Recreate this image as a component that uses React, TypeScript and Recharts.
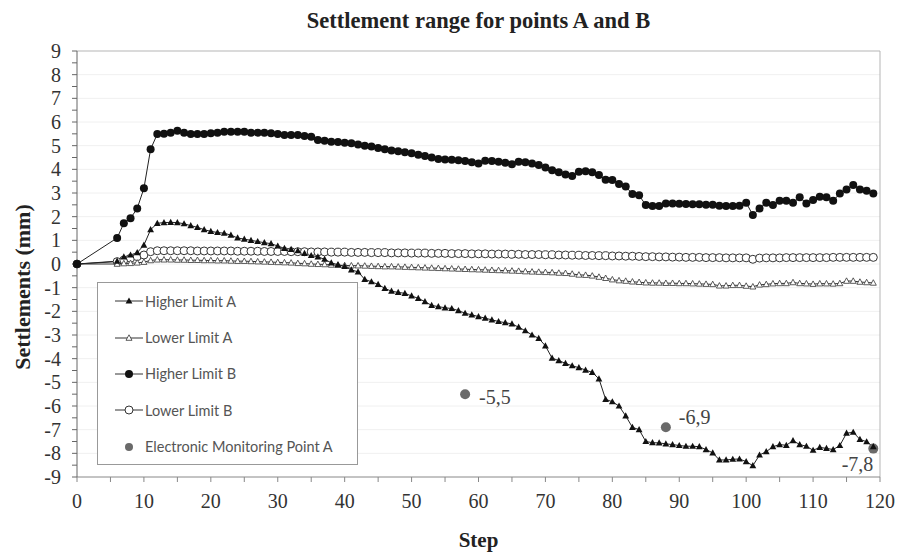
import {
  CartesianGrid,
  ComposedChart,
  Legend,
  Line,
  ReferenceLine,
  Scatter,
  XAxis,
  YAxis,
} from 'recharts'

// x categories: construction steps 0..119
const steps = Array.from({ length: 120 }, (_, i) => i)

// settlements (mm), null where no reading was taken
const higherLimitA = [
  0, null, null, null, null, null, 0.12, 0.3, 0.38, 0.48,
  0.8, 1.45, 1.72, 1.75, 1.76, 1.75, 1.7, 1.62, 1.55, 1.45,
  1.38, 1.33, 1.3, 1.22, 1.1, 1.05, 1.0, 0.95, 0.9, 0.86,
  0.76, 0.66, 0.62, 0.56, 0.45, 0.36, 0.3, 0.2, 0.05, -0.03,
  -0.1, -0.25, -0.33, -0.65, -0.75, -0.86, -1.03, -1.15, -1.2, -1.24,
  -1.35, -1.45, -1.59, -1.75, -1.8, -1.85, -1.88, -1.97, -2.08, -2.15,
  -2.22, -2.29, -2.36, -2.43, -2.48, -2.53, -2.67, -2.82, -3.0, -3.14,
  -3.46, -3.98, -4.08, -4.2, -4.3, -4.38, -4.48, -4.58, -4.85, -5.72,
  -5.82, -6.0, -6.42, -6.9, -7.0, -7.5, -7.55, -7.56, -7.6, -7.63,
  -7.67, -7.7, -7.7, -7.72, -7.84, -7.98, -8.28, -8.28, -8.25, -8.24,
  -8.35, -8.52, -8.07, -7.93, -7.72, -7.63, -7.66, -7.46, -7.63, -7.7,
  -7.87, -7.75, -7.79, -7.84, -7.67, -7.15, -7.11, -7.41, -7.51, -7.72,
]

const lowerLimitA = [
  0, null, null, null, null, null, 0.0, 0.02, 0.03, 0.05,
  0.08, 0.15, 0.18, 0.18, 0.18, 0.17, 0.17, 0.16, 0.16, 0.15,
  0.15, 0.14, 0.14, 0.13, 0.12, 0.12, 0.11, 0.1, 0.09, 0.08,
  0.07, 0.06, 0.05, 0.03, 0.02, 0.0, -0.01, -0.02, -0.04, -0.05,
  -0.06, -0.07, -0.07, -0.08, -0.09, -0.1, -0.11, -0.11, -0.12, -0.13,
  -0.14, -0.15, -0.16, -0.17, -0.18, -0.19, -0.2, -0.21, -0.22, -0.23,
  -0.24, -0.25, -0.26, -0.27, -0.28, -0.29, -0.3, -0.32, -0.33, -0.34,
  -0.35, -0.36, -0.38, -0.39, -0.42, -0.46, -0.47, -0.5, -0.55, -0.6,
  -0.66, -0.7, -0.72, -0.75, -0.77, -0.79, -0.8, -0.8, -0.81, -0.81,
  -0.82, -0.82, -0.83, -0.84, -0.85, -0.86, -0.92, -0.92, -0.9, -0.9,
  -0.93, -0.96, -0.88, -0.86, -0.83, -0.82, -0.82, -0.78, -0.82, -0.83,
  -0.85, -0.83, -0.83, -0.84, -0.82, -0.72, -0.72, -0.76, -0.78, -0.8,
]

const higherLimitB = [
  0, null, null, null, null, null, 1.1, 1.72, 1.93, 2.35,
  3.2, 4.85, 5.49, 5.5, 5.55, 5.63, 5.55, 5.49, 5.49, 5.49,
  5.52, 5.55, 5.59, 5.59, 5.59, 5.59, 5.55, 5.55, 5.55, 5.52,
  5.49, 5.45, 5.45, 5.45, 5.41, 5.38, 5.24, 5.21, 5.17, 5.15,
  5.12, 5.1, 5.05, 5.0, 4.96, 4.9, 4.85, 4.8, 4.76, 4.72,
  4.68, 4.62, 4.56, 4.5, 4.44, 4.42, 4.4, 4.38, 4.35, 4.3,
  4.25, 4.36, 4.35, 4.32, 4.28, 4.22, 4.32, 4.3, 4.25, 4.18,
  4.08, 3.96, 3.88, 3.78, 3.72, 3.9, 3.92, 3.88, 3.76, 3.56,
  3.55, 3.38, 3.27, 2.96, 2.9, 2.49, 2.45, 2.45, 2.56, 2.56,
  2.55, 2.54, 2.52, 2.52, 2.5, 2.5, 2.46, 2.45, 2.45, 2.46,
  2.59, 2.07, 2.35, 2.59, 2.49, 2.67, 2.67, 2.59, 2.82, 2.56,
  2.7, 2.84, 2.82, 2.67, 2.98, 3.15, 3.34, 3.15, 3.1, 2.98,
]

const lowerLimitB = [
  0, null, null, null, null, null, 0.1, 0.17, 0.24, 0.31,
  0.38, 0.52, 0.56, 0.56, 0.56, 0.56, 0.56, 0.56, 0.55, 0.55,
  0.55, 0.55, 0.55, 0.55, 0.54, 0.54, 0.54, 0.54, 0.53, 0.53,
  0.53, 0.53, 0.52, 0.52, 0.52, 0.51, 0.51, 0.51, 0.5, 0.5,
  0.5, 0.49, 0.49, 0.49, 0.48, 0.48, 0.48, 0.47, 0.47, 0.47,
  0.46, 0.46, 0.46, 0.45, 0.45, 0.45, 0.44, 0.44, 0.44, 0.43,
  0.43, 0.43, 0.42, 0.42, 0.42, 0.41, 0.41, 0.4, 0.4, 0.4,
  0.39, 0.39, 0.38, 0.38, 0.37, 0.37, 0.36, 0.36, 0.35, 0.35,
  0.34, 0.34, 0.33, 0.33, 0.32, 0.31, 0.31, 0.3, 0.3, 0.29,
  0.29, 0.28, 0.28, 0.28, 0.27, 0.27, 0.27, 0.26, 0.26, 0.26,
  0.26, 0.2, 0.25, 0.26, 0.26, 0.26, 0.27, 0.27, 0.27, 0.27,
  0.27, 0.27, 0.27, 0.28, 0.28, 0.28, 0.28, 0.28, 0.28, 0.28,
]

const monitorSteps = [58, 88, 119]
const monitorValues = [-5.5, -6.9, -7.8]
const monitorLabels = ['-5,5', '-6,9', '-7,8']

const xTicks = [0, 5, 10, 15, 20, 25, 30, 35, 40, 45, 50, 55, 60, 65, 70, 75, 80, 85, 90, 95, 100, 105, 110, 115, 120]
const yTicks = Array.from({ length: 37 }, (_, i) => -9 + i * 0.5)
const gridValues = [-8, -7, -6, -5, -4, -3, -2, -1, 0, 1, 2, 3, 4, 5, 6, 7, 8]

const table = steps.map((step, i) => ({
  step,
  hla: higherLimitA[i],
  lla: lowerLimitA[i],
  hlb: higherLimitB[i],
  llb: lowerLimitB[i],
}))

const monitorData = monitorSteps.map((step, i) => ({ step, value: monitorValues[i], label: monitorLabels[i] }))

const SERIF = '"Liberation Serif", "Times New Roman", serif'
const SANS = 'Lato, "DejaVu Sans", sans-serif'
const INK = '#222'

function Marker({ kind, cx, cy }: { kind: string; cx: number; cy: number }) {
  if (kind === 'hla') {
    return <path d={`M${cx},${cy - 3.6}L${cx + 3.4},${cy + 2.6}L${cx - 3.4},${cy + 2.6}Z`} fill="#111" />
  }
  if (kind === 'lla') {
    return (
      <path
        d={`M${cx},${cy - 3.2}L${cx + 3},${cy + 2.3}L${cx - 3},${cy + 2.3}Z`}
        fill="#fff"
        stroke="#333"
        strokeWidth={0.8}
      />
    )
  }
  if (kind === 'hlb') return <circle cx={cx} cy={cy} r={4} fill="#111" />
  return <circle cx={cx} cy={cy} r={4} fill="#fff" stroke="#333" strokeWidth={1} />
}

const makeDot = (kind: string) => (props: any) => {
  const { cx, cy, index, value } = props
  if (value == null || cy == null) return <g key={`${kind}-${index}`} />
  return (
    <g key={`${kind}-${index}`}>
      <Marker kind={kind} cx={cx} cy={cy} />
    </g>
  )
}

function XTick({ x, y, payload }: any) {
  if (payload.value % 10 !== 0) return <g />
  return (
    <text x={x} y={y} dy="0.71em" textAnchor="middle" fill="#333" fontSize={20} fontFamily={SERIF}>
      {payload.value}
    </text>
  )
}

function YTick({ x, y, payload }: any) {
  if (!Number.isInteger(payload.value)) return <g />
  return (
    <text x={x} y={y} dy="0.35em" textAnchor="end" fill="#333" fontSize={20} fontFamily={SERIF}>
      {payload.value}
    </text>
  )
}

function YTitle() {
  const cx = 22
  const cy = 287
  return (
    <text
      x={cx}
      y={cy}
      transform={`rotate(-90 ${cx} ${cy})`}
      textAnchor="middle"
      dy="0.35em"
      fill={INK}
      fontSize={22}
      fontWeight="bold"
      fontFamily={SERIF}
    >
      Settlements (mm)
    </text>
  )
}

// where each monitoring label sits relative to its dot
const labelPlacement: Record<string, { dx: number; dy: number; anchor: 'start' | 'end' }> = {
  '-5,5': { dx: 14, dy: 3, anchor: 'start' },
  '-6,9': { dx: 13, dy: -10, anchor: 'start' },
  '-7,8': { dx: 0, dy: 15, anchor: 'end' },
}

function MonitorPoint(props: any) {
  const { cx, cy, payload } = props
  const p = labelPlacement[payload.label] ?? { dx: 12, dy: 0, anchor: 'start' }
  return (
    <g>
      <circle cx={cx} cy={cy} r={5} fill="#6a6a6a" />
      <text
        x={cx + p.dx}
        y={cy + p.dy}
        dy="0.35em"
        textAnchor={p.anchor}
        fill="#444"
        fontSize={20}
        fontFamily={SERIF}
      >
        {payload.label}
      </text>
    </g>
  )
}

const legendItems = [
  { kind: 'hla', name: 'Higher Limit A' },
  { kind: 'lla', name: 'Lower Limit A' },
  { kind: 'hlb', name: 'Higher Limit B' },
  { kind: 'llb', name: 'Lower Limit B' },
  { kind: 'mon', name: 'Electronic Monitoring Point A' },
]

function LegendBox() {
  return (
    <div
      style={{
        boxSizing: 'border-box',
        width: 261,
        height: 183,
        border: '1px solid #999',
        background: '#fff',
        fontFamily: SANS,
        fontSize: 14.5,
        color: '#555',
      }}
    >
      {legendItems.map((item) => (
        <div key={item.kind} style={{ height: 36.4, display: 'flex', alignItems: 'center', paddingLeft: 17 }}>
          <svg width={28} height={12} style={{ marginRight: 2 }}>
            {item.kind === 'mon' ? (
              <circle cx={14} cy={6} r={4} fill="#6a6a6a" />
            ) : (
              <>
                <line x1={0} y1={6} x2={28} y2={6} stroke="#333" strokeWidth={1} />
                <Marker kind={item.kind} cx={14} cy={6} />
              </>
            )}
          </svg>
          <span>{item.name}</span>
        </div>
      ))}
    </div>
  )
}

export default function App() {
  return (
    <div style={{ position: 'absolute', left: 0, top: 0, width: 897, height: 556, background: '#fff' }}>
      <div
        style={{
          position: 'absolute',
          left: 77,
          width: 803,
          top: 7,
          textAlign: 'center',
          fontFamily: SERIF,
          fontWeight: 'bold',
          fontSize: 22.5,
          color: INK,
          lineHeight: '28px',
          zIndex: 2,
        }}
      >
        Settlement range for points A and B
      </div>
      <ComposedChart width={897} height={556} data={table} margin={{ top: 51, right: 17, bottom: 0, left: 0 }}>
        <CartesianGrid vertical={false} horizontalValues={gridValues} stroke="#f0f0f0" />
        <XAxis
          type="number"
          dataKey="step"
          domain={[0, 120]}
          ticks={xTicks}
          interval={0}
          height={79}
          tickSize={5}
          tickMargin={12}
          stroke="#888"
          tick={<XTick />}
          label={{
            value: 'Step',
            position: 'insideBottom',
            offset: 9,
            fill: INK,
            fontSize: 21,
            fontWeight: 'bold',
            fontFamily: SERIF,
          }}
        />
        <YAxis
          type="number"
          domain={[-9, 9]}
          ticks={yTicks}
          interval={0}
          width={77}
          tickSize={5}
          tickMargin={11}
          stroke="#666"
          tick={<YTick />}
          label={<YTitle />}
        />
        <ReferenceLine y={9} stroke="#b5b5b5" />
        <ReferenceLine x={120} stroke="#b5b5b5" />
        <Line
          dataKey="llb"
          stroke="#333"
          strokeWidth={1}
          connectNulls
          dot={makeDot('llb')}
          isAnimationActive={false}
        />
        <Line
          dataKey="lla"
          stroke="#333"
          strokeWidth={1}
          connectNulls
          dot={makeDot('lla')}
          isAnimationActive={false}
        />
        <Line
          dataKey="hla"
          stroke="#222"
          strokeWidth={1}
          connectNulls
          dot={makeDot('hla')}
          isAnimationActive={false}
        />
        <Line
          dataKey="hlb"
          stroke="#222"
          strokeWidth={1}
          connectNulls
          dot={makeDot('hlb')}
          isAnimationActive={false}
        />
        <Scatter data={monitorData} dataKey="value" shape={<MonitorPoint />} isAnimationActive={false} />
        <Legend
          layout="horizontal"
          verticalAlign="middle"
          align="center"
          content={<LegendBox />}
          wrapperStyle={{ left: 97, top: 282, width: 261, height: 183 }}
        />
      </ComposedChart>
    </div>
  )
}
